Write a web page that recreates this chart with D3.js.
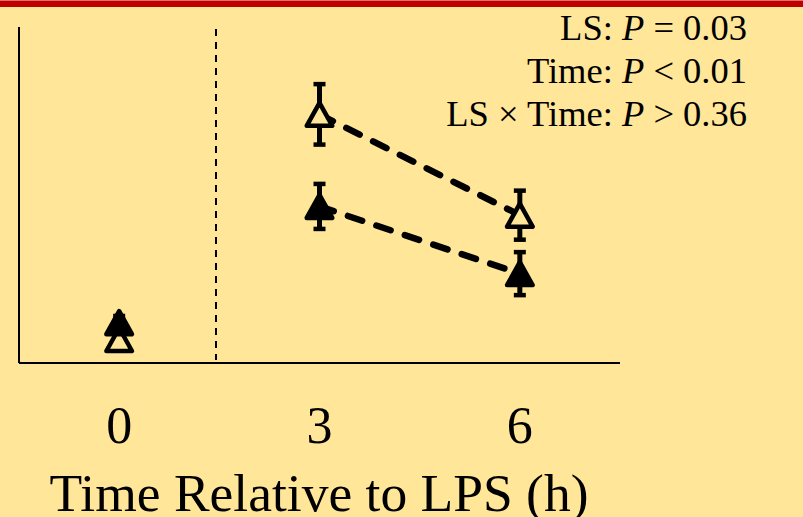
<!DOCTYPE html>
<html>
<head>
<meta charset="utf-8">
<script src="https://cdn.jsdelivr.net/npm/d3@7"></script>
<style>
  html, body { margin: 0; padding: 0; background: #FFE699; }
  svg { display: block; }
</style>
</head>
<body>
<div id="chart"></div>
<script>
// data (y units arbitrary, no y ticks shown)
const times = [0, 3, 6];
const tickLabels = ['0', '3', '6'];
const openMeans = [7, 74, 44];
const openErr = [2, 9, 7.3];
const filledMeans = [12, 46.6, 26.6];
const filledErr = [2, 6.7, 6.4];
const lpsTime = 1.45;
const statLines = [
  ['LS: ', 'P', ' = 0.03'],
  ['Time: ', 'P', ' < 0.01'],
  ['LS × Time: ', 'P', ' > 0.36']
];
const xTitle = 'Time Relative to LPS (h)';

const width = 803;
const height = 517;
const font = '"Liberation Serif", "Times New Roman", serif';

const svg = d3.select('#chart')
  .append('svg')
  .attr('width', width)
  .attr('height', height);

svg.append('rect')
  .attr('width', width).attr('height', height)
  .attr('fill', '#FFE699');
svg.append('rect')
  .attr('x', 0).attr('y', 0).attr('width', width).attr('height', 7)
  .attr('fill', '#C00000');
svg.append('rect')
  .attr('x', 0).attr('y', 0).attr('width', width).attr('height', 1)
  .attr('fill', '#E07070');

const x = d3.scaleLinear().domain([-1.5, 7.5]).range([19, 620]);
const y = d3.scaleLinear().domain([0, 100]).range([363, 27]);

// axes lines
svg.append('line')
  .attr('x1', x(-1.5)).attr('x2', x(-1.5))
  .attr('y1', y(100)).attr('y2', y(0))
  .attr('stroke', '#000').attr('stroke-width', 2);
svg.append('line')
  .attr('x1', x(-1.5)).attr('x2', x(7.5))
  .attr('y1', y(0)).attr('y2', y(0))
  .attr('stroke', '#000').attr('stroke-width', 2);

// LPS marker line
svg.append('line')
  .attr('x1', x(lpsTime)).attr('x2', x(lpsTime))
  .attr('y1', y(99.4)).attr('y2', y(0.9))
  .attr('stroke', '#000').attr('stroke-width', 2)
  .attr('stroke-dasharray', '7,6');

// tick labels
svg.append('g')
  .selectAll('text')
  .data(times)
  .join('text')
  .attr('x', d => x(d))
  .attr('y', 443)
  .attr('text-anchor', 'middle')
  .attr('font-family', font)
  .attr('font-size', 52)
  .text((d, i) => tickLabels[i]);

svg.append('text')
  .attr('x', 319)
  .attr('y', 511)
  .attr('text-anchor', 'middle')
  .attr('font-family', font)
  .attr('font-size', 53.5)
  .text(xTitle);

const series = [
  { means: openMeans, err: openErr, fill: '#FFE699' },
  { means: filledMeans, err: filledErr, fill: '#000' }
];

const line = d3.line()
  .x(d => x(d.t))
  .y(d => y(d.v));

const tri = (cx, cy) => {
  const hw = 12.8, hh = 11.5;
  return `M${cx},${cy - hh}L${cx + hw},${cy + hh}L${cx - hw},${cy + hh}Z`;
};

// dashed lines between 3 h and 6 h
series.forEach(s => {
  const pts = times.map((t, i) => ({ t, v: s.means[i] })).filter(d => d.t > 0);
  svg.append('path')
    .attr('d', line(pts))
    .attr('fill', 'none')
    .attr('stroke', '#000')
    .attr('stroke-width', 6.5)
    .attr('stroke-linecap', 'round')
    .attr('stroke-dasharray', '15,15');
});

series.forEach(s => {
  const g = svg.append('g');
  times.forEach((t, i) => {
    const cx = x(t);
    const top = y(s.means[i] + s.err[i]);
    const bot = y(s.means[i] - s.err[i]);
    g.append('line')
      .attr('x1', cx).attr('x2', cx).attr('y1', top).attr('y2', bot)
      .attr('stroke', '#000').attr('stroke-width', 5);
    [top, bot].forEach(yy => {
      g.append('line')
        .attr('x1', cx - 6).attr('x2', cx + 6).attr('y1', yy).attr('y2', yy)
        .attr('stroke', '#000').attr('stroke-width', 4.5);
    });
  });
  g.selectAll('path')
    .data(times)
    .join('path')
    .attr('d', (t, i) => tri(x(t), y(s.means[i])))
    .attr('fill', s.fill)
    .attr('stroke', '#000')
    .attr('stroke-width', 4.5)
    .attr('stroke-linejoin', 'round');
});

// stats text, right aligned
const stats = svg.append('g');
statLines.forEach((parts, i) => {
  const t = stats.append('text')
    .attr('x', 747)
    .attr('y', 40 + i * 43)
    .attr('text-anchor', 'end')
    .attr('font-family', font)
    .attr('font-size', 36.5);
  t.append('tspan').text(parts[0]);
  t.append('tspan').attr('font-style', 'italic').text(parts[1]);
  t.append('tspan').text(parts[2]);
});
</script>
</body>
</html>
